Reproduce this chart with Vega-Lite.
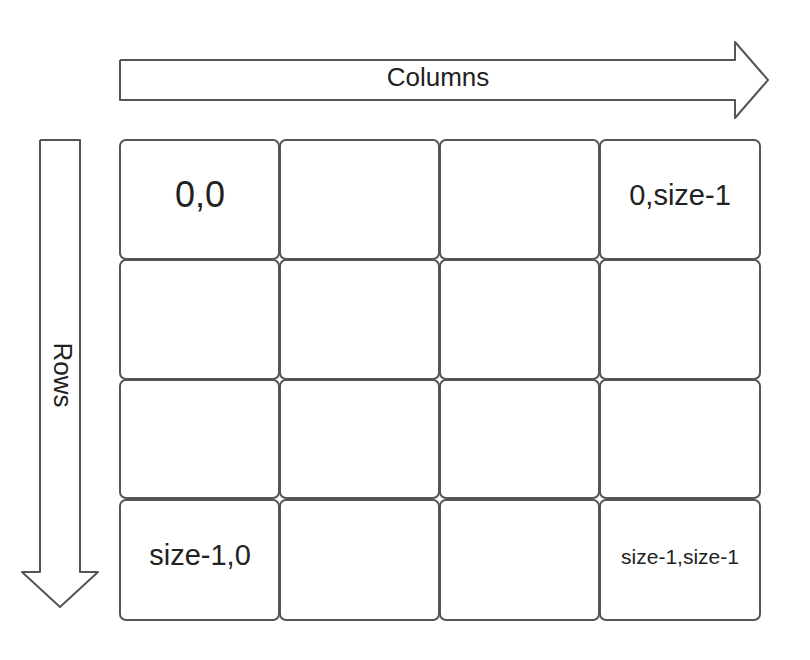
{
"$schema":"https://vega.github.io/schema/vega-lite/v6.json",
"width":810,"height":660,"padding":0,
"autosize":{"type":"none"},
"config":{"view":{"stroke":null},"font":"Liberation Sans"},
"datasets":{
"cells":[
{"x":120,"x2":279,"y":140,"y2":259},{"x":280,"x2":439,"y":140,"y2":259},{"x":440,"x2":599,"y":140,"y2":259},{"x":600,"x2":760,"y":140,"y2":259},
{"x":120,"x2":279,"y":260,"y2":379},{"x":280,"x2":439,"y":260,"y2":379},{"x":440,"x2":599,"y":260,"y2":379},{"x":600,"x2":760,"y":260,"y2":379},
{"x":120,"x2":279,"y":380,"y2":498},{"x":280,"x2":439,"y":380,"y2":498},{"x":440,"x2":599,"y":380,"y2":498},{"x":600,"x2":760,"y":380,"y2":498},
{"x":120,"x2":279,"y":500,"y2":620},{"x":280,"x2":439,"y":500,"y2":620},{"x":440,"x2":599,"y":500,"y2":620},{"x":600,"x2":760,"y":500,"y2":620}],
"arrows":[
{"a":"c","o":0,"x":120,"y":60},{"a":"c","o":1,"x":735,"y":60},{"a":"c","o":2,"x":735,"y":42},{"a":"c","o":3,"x":768,"y":80},{"a":"c","o":4,"x":735,"y":118},{"a":"c","o":5,"x":735,"y":100},{"a":"c","o":6,"x":120,"y":100},{"a":"c","o":7,"x":120,"y":60},
{"a":"r","o":0,"x":40,"y":140},{"a":"r","o":1,"x":80,"y":140},{"a":"r","o":2,"x":80,"y":572},{"a":"r","o":3,"x":98,"y":572},{"a":"r","o":4,"x":60,"y":607},{"a":"r","o":5,"x":22,"y":572},{"a":"r","o":6,"x":40,"y":572},{"a":"r","o":7,"x":40,"y":140}],
"labels":[
{"t":"Columns","x":438,"y":78,"s":26,"ang":0},
{"t":"Rows","x":62,"y":375,"s":26,"ang":90},
{"t":"0,0","x":200,"y":196,"s":36,"ang":0},
{"t":"0,size-1","x":680,"y":196,"s":29,"ang":0},
{"t":"size-1,0","x":200,"y":556,"s":29,"ang":0},
{"t":"size-1,size-1","x":680,"y":558,"s":21,"ang":0}]
},
"layer":[
{"data":{"name":"arrows"},"mark":{"type":"line","stroke":"#555","strokeWidth":2,"strokeJoin":"round"},
 "encoding":{"x":{"field":"x","type":"quantitative","scale":{"domain":[0,810],"nice":false,"zero":false},"axis":null},
 "y":{"field":"y","type":"quantitative","scale":{"domain":[0,660],"reverse":true,"nice":false,"zero":false},"axis":null},
 "detail":{"field":"a"},"order":{"field":"o"}}},
{"data":{"name":"cells"},"mark":{"type":"rect","fill":"white","stroke":"#555","strokeWidth":2,"cornerRadius":6},
 "encoding":{"x":{"field":"x","type":"quantitative"},"x2":{"field":"x2"},"y":{"field":"y","type":"quantitative"},"y2":{"field":"y2"}}},
{"data":{"name":"labels"},"mark":{"type":"text","color":"#222","baseline":"middle","align":"center"},
 "encoding":{"x":{"field":"x","type":"quantitative"},"y":{"field":"y","type":"quantitative"},"text":{"field":"t"},
 "size":{"field":"s","type":"quantitative","scale":null},"angle":{"field":"ang","type":"quantitative","scale":null}}}
]
}
